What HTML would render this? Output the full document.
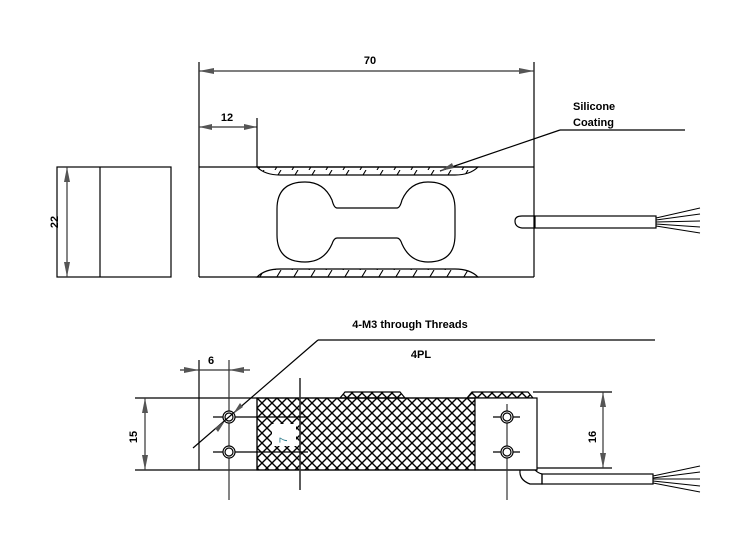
<!DOCTYPE html>
<html><head><meta charset="utf-8"><style>
html,body{margin:0;padding:0;background:#fff}
svg{display:block}
text{font-family:"Liberation Sans",Arial,sans-serif;font-weight:bold;font-size:11px;fill:#000}
</style></head><body>
<svg width="752" height="550" viewBox="0 0 752 550" xmlns="http://www.w3.org/2000/svg">
<defs>
<pattern id="xh" width="10" height="10" patternUnits="userSpaceOnUse" x="257" y="398">
<path d="M0,0L10,10M10,0L0,10M-1,9L1,11M9,-1L11,1M-1,1L1,-1M9,11L11,9" stroke="#000" stroke-width="1.4"/>
</pattern>
<pattern id="sh" width="17" height="10" patternUnits="userSpaceOnUse">
<path d="M3,10L9,0" stroke="#000" stroke-width="1.1"/>
</pattern>
</defs>
<g fill="none" stroke="#000" stroke-width="1.2">
<!-- top view -->
<line x1="199" y1="62" x2="199" y2="277"/>
<line x1="534" y1="62" x2="534" y2="277"/>
<line x1="199" y1="71" x2="534" y2="71" stroke="#333"/>
<line x1="199" y1="127" x2="257" y2="127" stroke="#333"/>
<line x1="257" y1="118" x2="257" y2="167"/>
<line x1="199" y1="167" x2="534" y2="167"/>
<line x1="199" y1="277" x2="534" y2="277"/>
<path d="M257,167 Q265,175 280,175 L455,175 Q470,175 478,167 Z" fill="url(#sh)"/>
<path d="M257,277 Q265,269 280,269 L455,269 Q470,269 478,277 Z" fill="url(#sh)"/>
<path d="M337,208 L397,208 Q400,208 402,200 Q410,182 428,182 Q455,182 455,209 L455,235 Q455,262 428,262 Q410,262 402,244 Q400,238 397,238 L337,238 Q334,238 332,244 Q324,262 305,262 Q277,262 277,235 L277,209 Q277,182 305,182 Q324,182 332,200 Q334,208 337,208 Z"/>
<line x1="440" y1="171" x2="560" y2="130"/>
<line x1="560" y1="130" x2="685" y2="130"/>
<path d="M535,216 L522,216 Q515,216 515,221 Q515,227 522,228 L535,228"/>
<rect x="535" y="216" width="121" height="12"/>
<path d="M656,218 L700,208 M656,220 L700,214 M656,222 L700,221 M656,224 L700,227 M656,226 L700,233" stroke-width="1"/>
<!-- side view -->
<rect x="57" y="167" width="114" height="110"/>
<line x1="100" y1="167" x2="100" y2="277"/>
<line x1="67" y1="167" x2="67" y2="277" stroke="#333"/>
<!-- bottom view -->
<rect x="257" y="398" width="218" height="72" fill="url(#xh)"/>
<rect x="272" y="424" width="24" height="22" fill="#fff" stroke="none"/>
<path d="M340,398 L345,392 L400,392 L405,398 Z" fill="url(#xh)"/>
<path d="M467,398 L472,392 L528,392 L533,398 Z" fill="url(#xh)"/>
<rect x="475" y="398" width="62" height="72" fill="#fff"/>
<line x1="135" y1="398" x2="475" y2="398"/>
<line x1="135" y1="470" x2="537" y2="470"/>
<line x1="533" y1="392" x2="612" y2="392"/>
<line x1="537" y1="468" x2="612" y2="468"/>
<line x1="199" y1="360" x2="199" y2="470"/>
<line x1="229" y1="360" x2="229" y2="500" stroke="#333"/>
<line x1="257" y1="398" x2="257" y2="470"/>
<line x1="507" y1="404" x2="507" y2="500" stroke="#333"/>
<line x1="180" y1="370" x2="250" y2="370" stroke="#333"/>
<line x1="145" y1="398" x2="145" y2="470" stroke="#333"/>
<line x1="603" y1="392" x2="603" y2="468" stroke="#333"/>
<line x1="300" y1="378" x2="300" y2="490" stroke="#333" stroke-width="1.6"/>
<line x1="213" y1="417" x2="308" y2="417"/>
<line x1="213" y1="452" x2="308" y2="452"/>
<line x1="493" y1="417" x2="520" y2="417"/>
<line x1="493" y1="452" x2="520" y2="452"/>
<circle cx="229" cy="417" r="6" fill="#fff"/><circle cx="229" cy="417" r="4"/>
<circle cx="229" cy="452" r="6" fill="#fff"/><circle cx="229" cy="452" r="4"/>
<circle cx="507" cy="417" r="6" fill="#fff"/><circle cx="507" cy="417" r="4"/>
<circle cx="507" cy="452" r="6" fill="#fff"/><circle cx="507" cy="452" r="4"/>
<line x1="193" y1="448" x2="318" y2="340"/>
<line x1="318" y1="340" x2="655" y2="340"/>
<path d="M520,470 Q519,480 530,484 L542,484 L542,474 Q538,473 535,470"/>
<rect x="542" y="474" width="111" height="10"/>
<path d="M653,476 L700,466 M653,478 L700,472 M653,479 L700,479 M653,481 L700,486 M653,483 L700,492" stroke-width="1"/>
</g>
<g fill="#555" stroke="none">
<path d="M199,71 L214,68 L214,74Z"/><path d="M534,71 L519,68 L519,74Z"/>
<path d="M199,127 L212,124 L212,130Z"/><path d="M257,127 L244,124 L244,130Z"/>
<path d="M67,167 L64,182 L70,182Z"/><path d="M67,277 L64,262 L70,262Z"/>
<path d="M199,370 L184,367 L184,373Z"/><path d="M229,370 L244,367 L244,373Z"/>
<path d="M145,398 L142,413 L148,413Z"/><path d="M145,470 L142,455 L148,455Z"/>
<path d="M603,392 L600,407 L606,407Z"/><path d="M603,468 L600,453 L606,453Z"/>
<path d="M440,171 L452,163 L454,168Z"/>
<path d="M233,414 L240,403 L243,407Z"/><path d="M225,421 L218,432 L215,428Z"/>
</g>
<text x="370" y="64" text-anchor="middle">70</text>
<text x="227" y="121" text-anchor="middle">12</text>
<text x="573" y="110">Silicone</text>
<text x="573" y="126">Coating</text>
<text transform="translate(58,222) rotate(-90)" text-anchor="middle">22</text>
<text x="410" y="328" text-anchor="middle">4-M3 through Threads</text>
<text x="421" y="358" text-anchor="middle">4PL</text>
<text x="211" y="364" text-anchor="middle">6</text>
<text transform="translate(137,437) rotate(-90)" text-anchor="middle">15</text>
<text transform="translate(596,437) rotate(-90)" text-anchor="middle">16</text>
<text transform="translate(287,440) rotate(-90)" text-anchor="middle" style="fill:#2a7a8a;font-weight:normal">7</text>
</svg>
</body></html>
